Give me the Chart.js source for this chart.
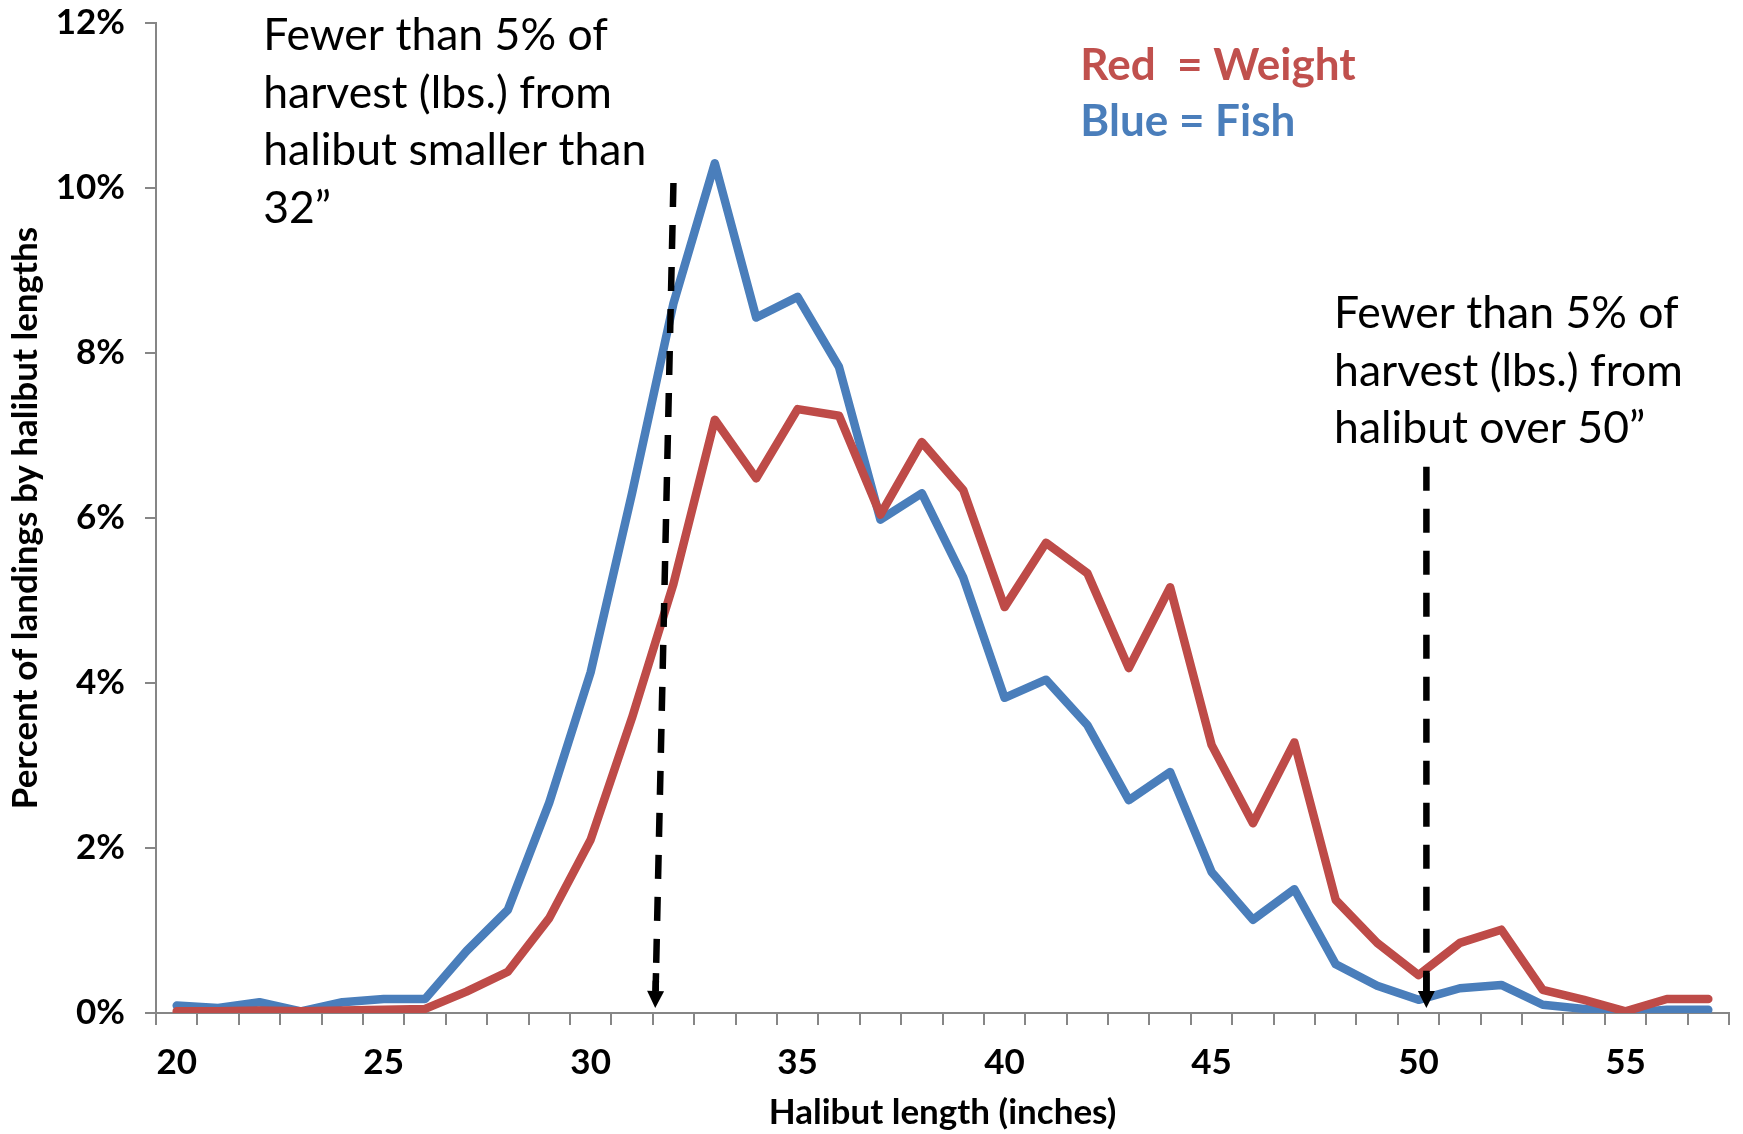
<!DOCTYPE html>
<html>
<head>
<meta charset="utf-8">
<script src="https://cdn.jsdelivr.net/npm/chart.js@4.4.1/dist/chart.umd.min.js"></script>
<style>
  html, body { margin: 0; padding: 0; background: #fff; }
  #wrap { width: 1743px; height: 1134px; }
</style>
</head>
<body>
<div id="wrap"><canvas id="chart"></canvas></div>
<script>
// halibut length categories (inches)
const lengths = [20, 21, 22, 23, 24, 25, 26, 27, 28, 29,
                 30, 31, 32, 33, 34, 35, 36, 37, 38, 39,
                 40, 41, 42, 43, 44, 45, 46, 47, 48, 49,
                 50, 51, 52, 53, 54, 55, 56, 57];

// percent of landings by number of fish (blue)
const fishPct = [0.09, 0.06, 0.13, 0.02, 0.13, 0.17, 0.17, 0.75, 1.25, 2.55,
                 4.13, 6.30, 8.60, 10.30, 8.43, 8.68, 7.83, 5.98, 6.30, 5.28,
                 3.82, 4.04, 3.49, 2.58, 2.92, 1.71, 1.13, 1.50, 0.59, 0.33,
                 0.16, 0.30, 0.34, 0.10, 0.05, 0.00, 0.04, 0.04];

// percent of landings by weight (red)
const weightPct = [0.02, 0.02, 0.03, 0.02, 0.03, 0.04, 0.05, 0.26, 0.50, 1.15,
                   2.10, 3.58, 5.20, 7.19, 6.48, 7.32, 7.24, 6.04, 6.92, 6.34,
                   4.92, 5.70, 5.33, 4.18, 5.16, 3.25, 2.30, 3.28, 1.37, 0.85,
                   0.46, 0.85, 1.01, 0.28, 0.16, 0.02, 0.17, 0.17];

// annotation texts
const noteSmall = ["Fewer than 5% of", "harvest (lbs.) from", "halibut smaller than", "32\u201d"];
const noteLarge = ["Fewer than 5% of", "harvest (lbs.) from", "halibut over 50\u201d"];
const keyLines = [
    { text: "Red  = Weight", color: "#C0504D" },
    { text: "Blue = Fish",   color: "#4A7EBB" }
];

// dashed arrows, in data units (length, percent)
const arrows = [
    { x1: 32.0,  y1: 10.06, x2: 31.56, y2: 0.06 },
    { x1: 50.19, y1: 6.62,  x2: 50.19, y2: 0.06 }
];

const FONT = "Lato, 'Open Sans', 'DejaVu Sans', sans-serif";
const AXIS_GRAY = "#868686";


/**************** Annotation plugin *************************/

// converts a (fractional) length into a pixel on the category axis
function xPix(scale, v) {
    const p0 = scale.getPixelForValue(0);
    const p1 = scale.getPixelForValue(1);
    return p0 + (v - lengths[0]) * (p1 - p0);
}

const notesPlugin = {
    id: 'notes',
    afterDatasetsDraw(chart) {
        const ctx = chart.ctx;
        const xs = chart.scales.x;
        const ys = chart.scales.y;

        // dashed arrows
        arrows.forEach(a => {
            const x1 = xPix(xs, a.x1), y1 = ys.getPixelForValue(a.y1);
            const x2 = xPix(xs, a.x2), y2 = ys.getPixelForValue(a.y2);
            const head = 17;
            const len = Math.hypot(x2 - x1, y2 - y1);
            const ux = (x2 - x1) / len, uy = (y2 - y1) / len;
            const bx = x2 - ux * head, by = y2 - uy * head;

            ctx.save();
            ctx.strokeStyle = '#000';
            ctx.lineWidth = 6.5;
            ctx.setLineDash([24, 18]);
            ctx.beginPath();
            ctx.moveTo(x1, y1);
            ctx.lineTo(bx, by);
            ctx.stroke();
            ctx.setLineDash([]);
            // solid last bit into the head
            ctx.beginPath();
            ctx.moveTo(bx - ux * 18, by - uy * 18);
            ctx.lineTo(bx, by);
            ctx.stroke();

            ctx.fillStyle = '#000';
            ctx.beginPath();
            ctx.moveTo(x2, y2);
            ctx.lineTo(bx - uy * 8.5, by + ux * 8.5);
            ctx.lineTo(bx + uy * 8.5, by - ux * 8.5);
            ctx.closePath();
            ctx.fill();
            ctx.restore();
        });

        // text blocks
        ctx.save();
        ctx.textAlign = 'left';
        ctx.textBaseline = 'alphabetic';
        ctx.fillStyle = '#000';
        ctx.font = "44.5px " + FONT;
        let x = xPix(xs, 22.09), y = ys.getPixelForValue(11.67);
        noteSmall.forEach((t, i) => ctx.fillText(t, x, y + i * 57.6));

        x = xPix(xs, 47.96); y = ys.getPixelForValue(8.30);
        noteLarge.forEach((t, i) => ctx.fillText(t, x, y + i * 57.6));

        ctx.font = "bold 44px " + FONT;
        x = xPix(xs, 41.83); y = ys.getPixelForValue(11.31);
        keyLines.forEach((k, i) => {
            ctx.fillStyle = k.color;
            ctx.fillText(k.text, x, y + i * 56);
        });
        ctx.restore();
    }
};


/**************** Load chart *************************/

const ctx = document.getElementById('chart');

new Chart(ctx, {
    type: 'line',
    data: {
        labels: lengths,
        datasets: [{
            label: 'Weight',
            data: weightPct,
            borderColor: '#BE4B48',
            borderWidth: 8.5,
            pointRadius: 0,
            tension: 0,
            borderJoinStyle: 'round',
            borderCapStyle: 'round'
        }, {
            label: 'Fish',
            data: fishPct,
            borderColor: '#4A7EBB',
            borderWidth: 8.5,
            pointRadius: 0,
            tension: 0,
            borderJoinStyle: 'round',
            borderCapStyle: 'round'
        }]
    },
    options: {
        responsive: true,
        maintainAspectRatio: false,
        animation: false,
        events: [],
        layout: {
            padding: { left: 0, right: 14, top: 23, bottom: 0 }
        },
        plugins: {
            legend: { display: false },
            tooltip: { enabled: false },
            title: { display: false }
        },
        scales: {
            x: {
                type: 'category',
                offset: true,
                afterFit: s => { s.height = 121; },
                grid: {
                    offset: true,
                    drawOnChartArea: false,
                    drawTicks: true,
                    tickLength: 12,
                    color: AXIS_GRAY,
                    lineWidth: 2
                },
                border: { color: AXIS_GRAY, width: 2 },
                ticks: {
                    autoSkip: false,
                    maxRotation: 0,
                    padding: 17,
                    color: '#000',
                    font: { family: FONT, size: 35, weight: 'bold' },
                    callback: function (val, idx) {
                        const l = lengths[idx];
                        return l % 5 === 0 ? String(l) : '';
                    }
                },
                title: {
                    display: true,
                    text: 'Halibut length (inches)',
                    color: '#000',
                    font: { family: FONT, size: 35, weight: 'bold' },
                    padding: { top: 0, bottom: 0 }
                }
            },
            y: {
                min: 0,
                max: 12,
                // fixed width, and no extra room above/below for the end labels
                afterFit: s => { s.width = 156; s.paddingTop = 0; s.paddingBottom = 0; },
                grid: {
                    drawOnChartArea: false,
                    drawTicks: true,
                    tickLength: 11,
                    color: AXIS_GRAY,
                    lineWidth: 2
                },
                border: { color: AXIS_GRAY, width: 2 },
                ticks: {
                    stepSize: 2,
                    padding: 20,
                    color: '#000',
                    font: { family: FONT, size: 35, weight: 'bold' },
                    callback: v => v + '%'
                },
                title: {
                    display: true,
                    text: 'Percent of landings by halibut lengths',
                    color: '#000',
                    font: { family: FONT, size: 35, weight: 'bold' },
                    padding: { top: 5, bottom: 0 }
                }
            }
        }
    },
    plugins: [notesPlugin]
});
</script>
</body>
</html>
